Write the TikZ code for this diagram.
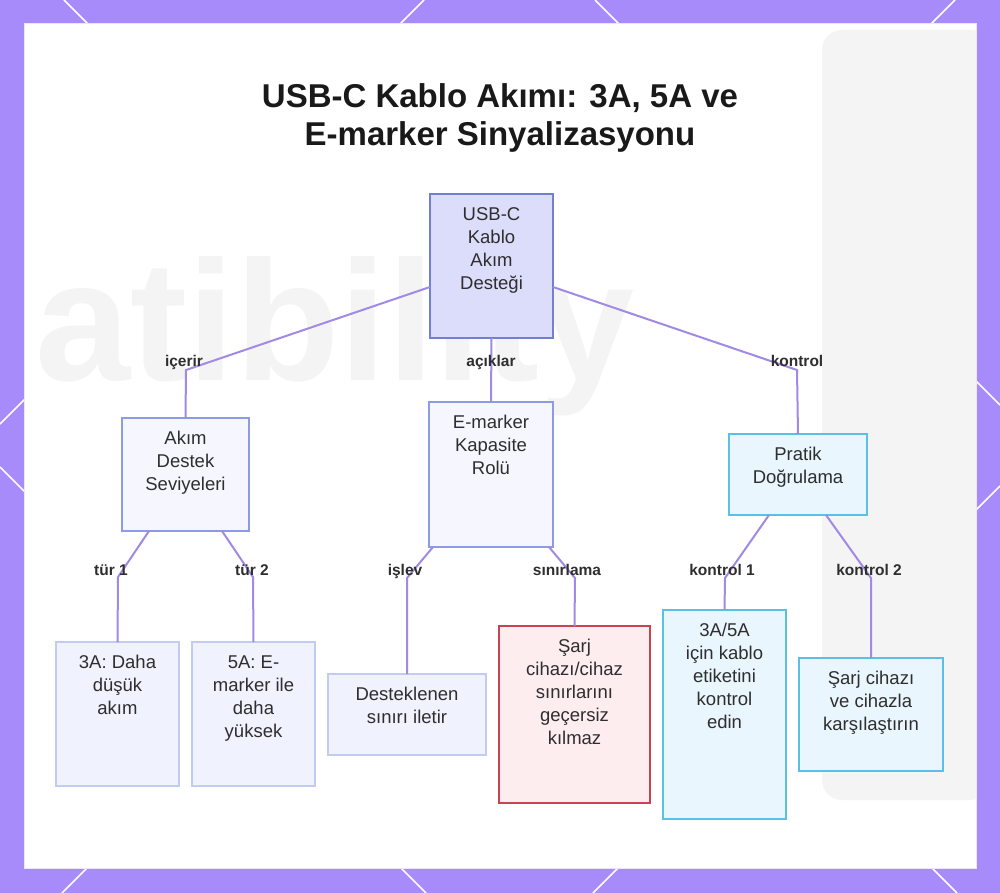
\documentclass[tikz,border=0pt]{standalone}
\usepackage{fontspec}
\setmainfont{Liberation Sans}
\definecolor{bgpurple}{HTML}{A78BFA}
\definecolor{paneledge}{HTML}{ECE6FD}
\definecolor{connc}{HTML}{A08AE6}
\definecolor{txtc}{HTML}{2E2E2E}
\definecolor{rootfill}{HTML}{DCDDFA}
\definecolor{rootdraw}{HTML}{7380D0}
\definecolor{midfill}{HTML}{F6F7FE}
\definecolor{middraw}{HTML}{8C9BE3}
\definecolor{leaffill}{HTML}{F0F2FD}
\definecolor{leafdraw}{HTML}{C3CBF3}
\definecolor{cyanfill}{HTML}{EAF6FD}
\definecolor{cyandraw}{HTML}{5BBFE6}
\definecolor{redfill}{HTML}{FDEDEF}
\definecolor{reddraw}{HTML}{C94352}
\definecolor{wmgray}{HTML}{F4F4F5}
\newcommand\mkbox[7]{%
  \node[#2, minimum width={#5-#3}, minimum height={#6-#4}, anchor=north west] (#1) at (#3,#4) {};
  \node[txt, anchor=north] (#1t) at ([yshift=-7pt]#1.north) {\rule{0pt}{19pt}#7};
}
\begin{document}
\begin{tikzpicture}[x=1pt,y=-1pt,
  conn/.style={draw=connc, line width=2pt},
  lbl/.style={font=\bfseries\fontsize{15.5}{18}\selectfont, text=txtc, inner sep=0pt, text height=11pt, text depth=3pt},
  boxbase/.style={rectangle, inner sep=0pt, outer sep=0pt, line width=1.5pt},
  rootbox/.style={boxbase, fill=rootfill, draw=rootdraw},
  midbox/.style={boxbase, fill=midfill, draw=middraw},
  leafbox/.style={boxbase, fill=leaffill, draw=leafdraw},
  cyanbox/.style={boxbase, fill=cyanfill, draw=cyandraw},
  redbox/.style={boxbase, fill=redfill, draw=reddraw},
  txt/.style={font=\fontsize{18.5}{23}\selectfont, text=txtc, align=center, inner sep=0pt},
  lattice/.style={draw=white, line width=1.5pt},
]
\useasboundingbox (0,0) rectangle (1000,893);
% background frame
\fill[bgpurple] (0,0) rectangle (1000,893);
\draw[lattice] (0,424) -- (424,0);
\draw[lattice] (62,893) -- (955,0);
\draw[lattice] (593,893) -- (1000,486);
\draw[lattice] (0,467) -- (426,893);
\draw[lattice] (64,0) -- (957,893);
\draw[lattice] (595,0) -- (1000,405);
\filldraw[fill=white, draw=paneledge, line width=1pt] (24,24) rectangle (976,868);
% faint watermark
\begin{scope}
\clip (24,24) rectangle (976,868);
\fill[wmgray, rounded corners=20pt] (822,30) rectangle (990,800);
\node[anchor=base, text=wmgray, font=\bfseries\fontsize{171}{171}\selectfont, inner sep=0pt] (wm) at (335,380) {atibility};
\end{scope}
% title
\node[anchor=base, align=center, text=black!90, inner sep=0pt, font=\bfseries\fontsize{33}{38}\selectfont] (title) at (500,146) {USB-C Kablo Akımı: 3A, 5A ve\\E-marker Sinyalizasyonu};
% boxes
\mkbox{root}{rootbox}{430}{194}{553}{338}{USB-C\\Kablo\\Akım\\Desteği}
\mkbox{akim}{midbox}{122}{418}{249}{531}{Akım\\Destek\\Seviyeleri}
\mkbox{emk}{midbox}{429}{402}{553}{547}{E-marker\\Kapasite\\Rolü}
\mkbox{prat}{cyanbox}{729}{434}{867}{515}{Pratik\\Doğrulama}
\mkbox{tri}{leafbox}{56}{642}{179}{786}{3A: Daha\\düşük\\akım}
\mkbox{fiv}{leafbox}{192}{642}{315}{786}{5A: E-\\marker ile\\daha\\yüksek}
\mkbox{dest}{leafbox}{328}{674}{486}{755}{Desteklenen\\sınırı iletir}
\mkbox{sarj}{redbox}{499}{626}{650}{803}{Şarj\\cihazı/cihaz\\sınırlarını\\geçersiz\\kılmaz}
\mkbox{etik}{cyanbox}{663}{610}{786}{819}{3A/5A\\için kablo\\etiketini\\kontrol\\edin}
\mkbox{kars}{cyanbox}{799}{658}{943}{771}{Şarj cihazı\\ve cihazla\\karşılaştırın}
% bend coordinates
\coordinate (b1) at (186,370);
\coordinate (b3) at (797,370);
\coordinate (c1) at (118,577);
\coordinate (c2) at (253,577);
\coordinate (c3) at (407,578);
\coordinate (c4) at (575,578);
\coordinate (c5) at (725,578);
\coordinate (c6) at (871,578);
% connectors
\draw[conn] ([yshift=-21pt]root.west) -- (b1) -- (akim.north);
\draw[conn] (root.south) -- (emk.north);
\draw[conn] ([yshift=-21pt]root.east) -- (b3) -- (prat.north);
\draw[conn] ([xshift=-36.5pt]akim.south) -- (c1) -- (tri.north);
\draw[conn] ([xshift=36.5pt]akim.south) -- (c2) -- (fiv.north);
\draw[conn] ([xshift=-58pt]emk.south) -- (c3) -- (dest.north);
\draw[conn] ([xshift=58pt]emk.south) -- (c4) -- (sarj.north);
\draw[conn] ([xshift=-29pt]prat.south) -- (c5) -- (etik.north);
\draw[conn] ([xshift=28pt]prat.south) -- (c6) -- (kars.north);
% labels
\node[lbl] (l1) at (184,362) {içerir};
\node[lbl] (l2) at (491,362) {açıklar};
\node[lbl] (l3) at (797,362) {kontrol};
\node[lbl] (l4) at (111,571) {tür 1};
\node[lbl] (l5) at (252,571) {tür 2};
\node[lbl] (l6) at (405,571) {işlev};
\node[lbl] (l7) at (567,571) {sınırlama};
\node[lbl] (l8) at (722,571) {kontrol 1};
\node[lbl] (l9) at (869,571) {kontrol 2};
\end{tikzpicture}
\end{document}
